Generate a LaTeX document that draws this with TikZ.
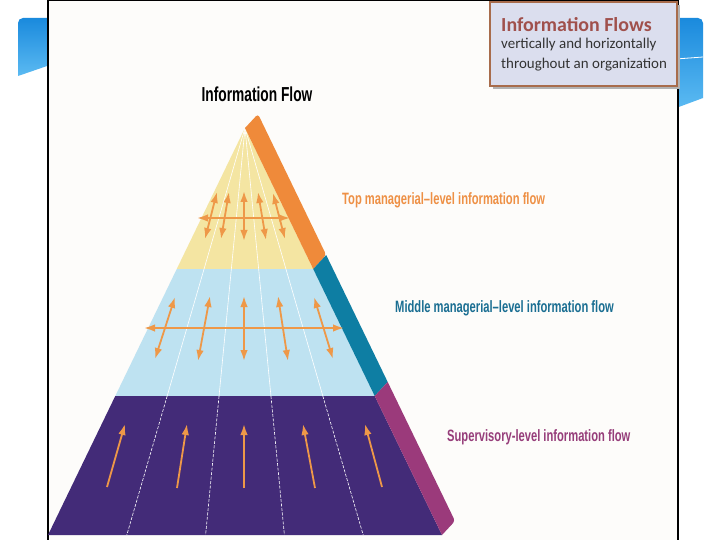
\documentclass[tikz,border=0pt]{standalone}
\usepackage{fontspec}
\setmainfont{Carlito}
\newfontfamily\condfont[FakeStretch=0.68]{Liberation Sans}
\usetikzlibrary{arrows.meta,calc}

\definecolor{slidedark}{HTML}{1A8ADD}
\definecolor{slidelight}{HTML}{5BBAF2}
\definecolor{framebg}{HTML}{FDFCFA}
\definecolor{topyellow}{HTML}{F4E5A2}
\definecolor{midblue}{HTML}{BEE2F1}
\definecolor{lowpurple}{HTML}{432B78}
\definecolor{edgeorange}{HTML}{EF8A3A}
\definecolor{edgeteal}{HTML}{0E7EA3}
\definecolor{edgeplum}{HTML}{9B3A7B}
\definecolor{flowarrow}{HTML}{EE9848}
\definecolor{toptext}{HTML}{EE9045}
\definecolor{midtext}{HTML}{1A6E92}
\definecolor{suptext}{HTML}{963D7A}
\definecolor{boxfill}{HTML}{DBDEEE}
\definecolor{boxline}{HTML}{A86C4C}
\definecolor{boxtitle}{HTML}{A0504C}
\definecolor{boxtext}{HTML}{333333}

\tikzset{
    flow/.style={draw=flowarrow, line width=1.8bp},
    flowup/.style={flow, -{Latex[length=11bp,width=7.5bp]}},
    flowboth/.style={flow, {Latex[length=11bp,width=7.5bp]}-{Latex[length=11bp,width=7.5bp]}},
    levellabel/.style={anchor=base west, inner sep=0, font=\condfont\bfseries\fontsize{16.5}{16.5}\selectfont}
}

\begin{document}
\begin{tikzpicture}[x=1bp,y=-1bp]

    \useasboundingbox (0,0) rectangle (720,540);
    \fill[white] (0,0) rectangle (720,540);

    % slide decoration behind the picture
    \shade[top color=slidedark, bottom color=slidelight] (18,76) [rounded corners=5bp] -- (18,18) [sharp corners] -- (50,18) -- (50,65) -- cycle;
    \shade[top color=slidedark, bottom color=slidelight] (676,108) -- (676,18) [rounded corners=5bp] -- (703,18) [sharp corners] -- (703,98) -- cycle;
    \draw[white, line width=0.8bp] (676,59) -- (703,57);

    % picture frame
    \fill[framebg] (48,0) rectangle (678,540);
    \draw[black, line width=1.5bp] (48,540) -- (48,0.75) -- (678,0.75) -- (678,540);

    % pyramid points
    \coordinate (apex) at (245,128);
    \coordinate (bl) at (48,535);
    \coordinate (br) at (442,535);
    \coordinate (f1) at (313.2,269);
    \coordinate (f2) at (374.7,396);

    % front face, three levels
    \begin{scope}
        \clip (apex) -- (br) -- (bl) -- cycle;
        \fill[topyellow] (0,100) rectangle (720,269);
        \fill[midblue] (0,269) rectangle (720,396);
        \fill[lowpurple] (0,396) rectangle (720,540);
        \foreach \bx in {126.8,205.6,284.4,363.2} {
            \draw[white, line width=0.6bp] (apex) -- ($(apex)!0.6585!(\bx,535)$);
            \draw[white, line width=0.6bp, dash pattern=on 3bp off 1.5bp] ($(apex)!0.6585!(\bx,535)$) -- (\bx,535);
        }
    \end{scope}

    % side band
    \fill[edgeorange, rounded corners=3bp] (apex) -- ++(13,-14) -- ($(f1)+(13,-14)$) [sharp corners] -- (f1) -- cycle;
    \fill[edgeteal] (f1) -- ($(f1)+(13,-14)$) -- ($(f2)+(13,-14)$) -- (f2) -- cycle;
    \fill[edgeplum] (f2) -- ($(f2)+(13,-14)$) [rounded corners=3bp] -- ($(br)+(13,-14)$) [sharp corners] -- (br) -- cycle;

    % top level flows
    \draw[flowboth] (197,218) -- (290,218);
    \draw[flowboth] (217,192) -- (205,239);
    \draw[flowboth] (229,192) -- (221,239);
    \draw[flowboth] (244,191) -- (244,241);
    \draw[flowboth] (258,192) -- (266,240);
    \draw[flowboth] (273,193) -- (285,239);

    % middle level flows
    \draw[flowboth] (144,328) -- (344,328);
    \draw[flowboth] (175,297) -- (155,359);
    \draw[flowboth] (210,296) -- (198,361);
    \draw[flowboth] (244,296) -- (244,361);
    \draw[flowboth] (278,296) -- (288,361);
    \draw[flowboth] (314,297) -- (333,359);

    % supervisory level flows
    \draw[flowup] (107,487) -- (125,424);
    \draw[flowup] (177,488) -- (187,424);
    \draw[flowup] (244,488) -- (244,424);
    \draw[flowup] (315,488) -- (303,424);
    \draw[flowup] (382,487) -- (365,424);

    % labels
    \node[anchor=base, inner sep=0, font=\condfont\bfseries\fontsize{20.3}{20.3}\selectfont] (pyrtitle) at (257,102) {Information Flow};
    \node[levellabel, text=toptext] (toplabel) at (342,204.3) {Top managerial–level information flow};
    \node[levellabel, text=midtext] (midlabel) at (395,312.7) {Middle managerial–level information flow};
    \node[levellabel, text=suptext] (suplabel) at (447,441.7) {Supervisory-level information flow};

    % corner box
    \fill[black!30] (493,5) rectangle (680,89);
    \draw[boxline, line width=2bp, fill=boxfill] (490,2) rectangle (677,86);
    \node[anchor=base west, inner sep=0, text=boxtitle, font=\bfseries\fontsize{20}{20}\selectfont] (boxhead) at (501,31.7) {Information Flows};
    \node[anchor=base west, inner sep=0, text=boxtext, font=\fontsize{15}{15}\selectfont] (boxline1) at (501,48.5) {vertically and horizontally};
    \node[anchor=base west, inner sep=0, text=boxtext, font=\fontsize{15}{15}\selectfont] (boxline2) at (501,68.5) {throughout an organization};

\end{tikzpicture}
\end{document}
